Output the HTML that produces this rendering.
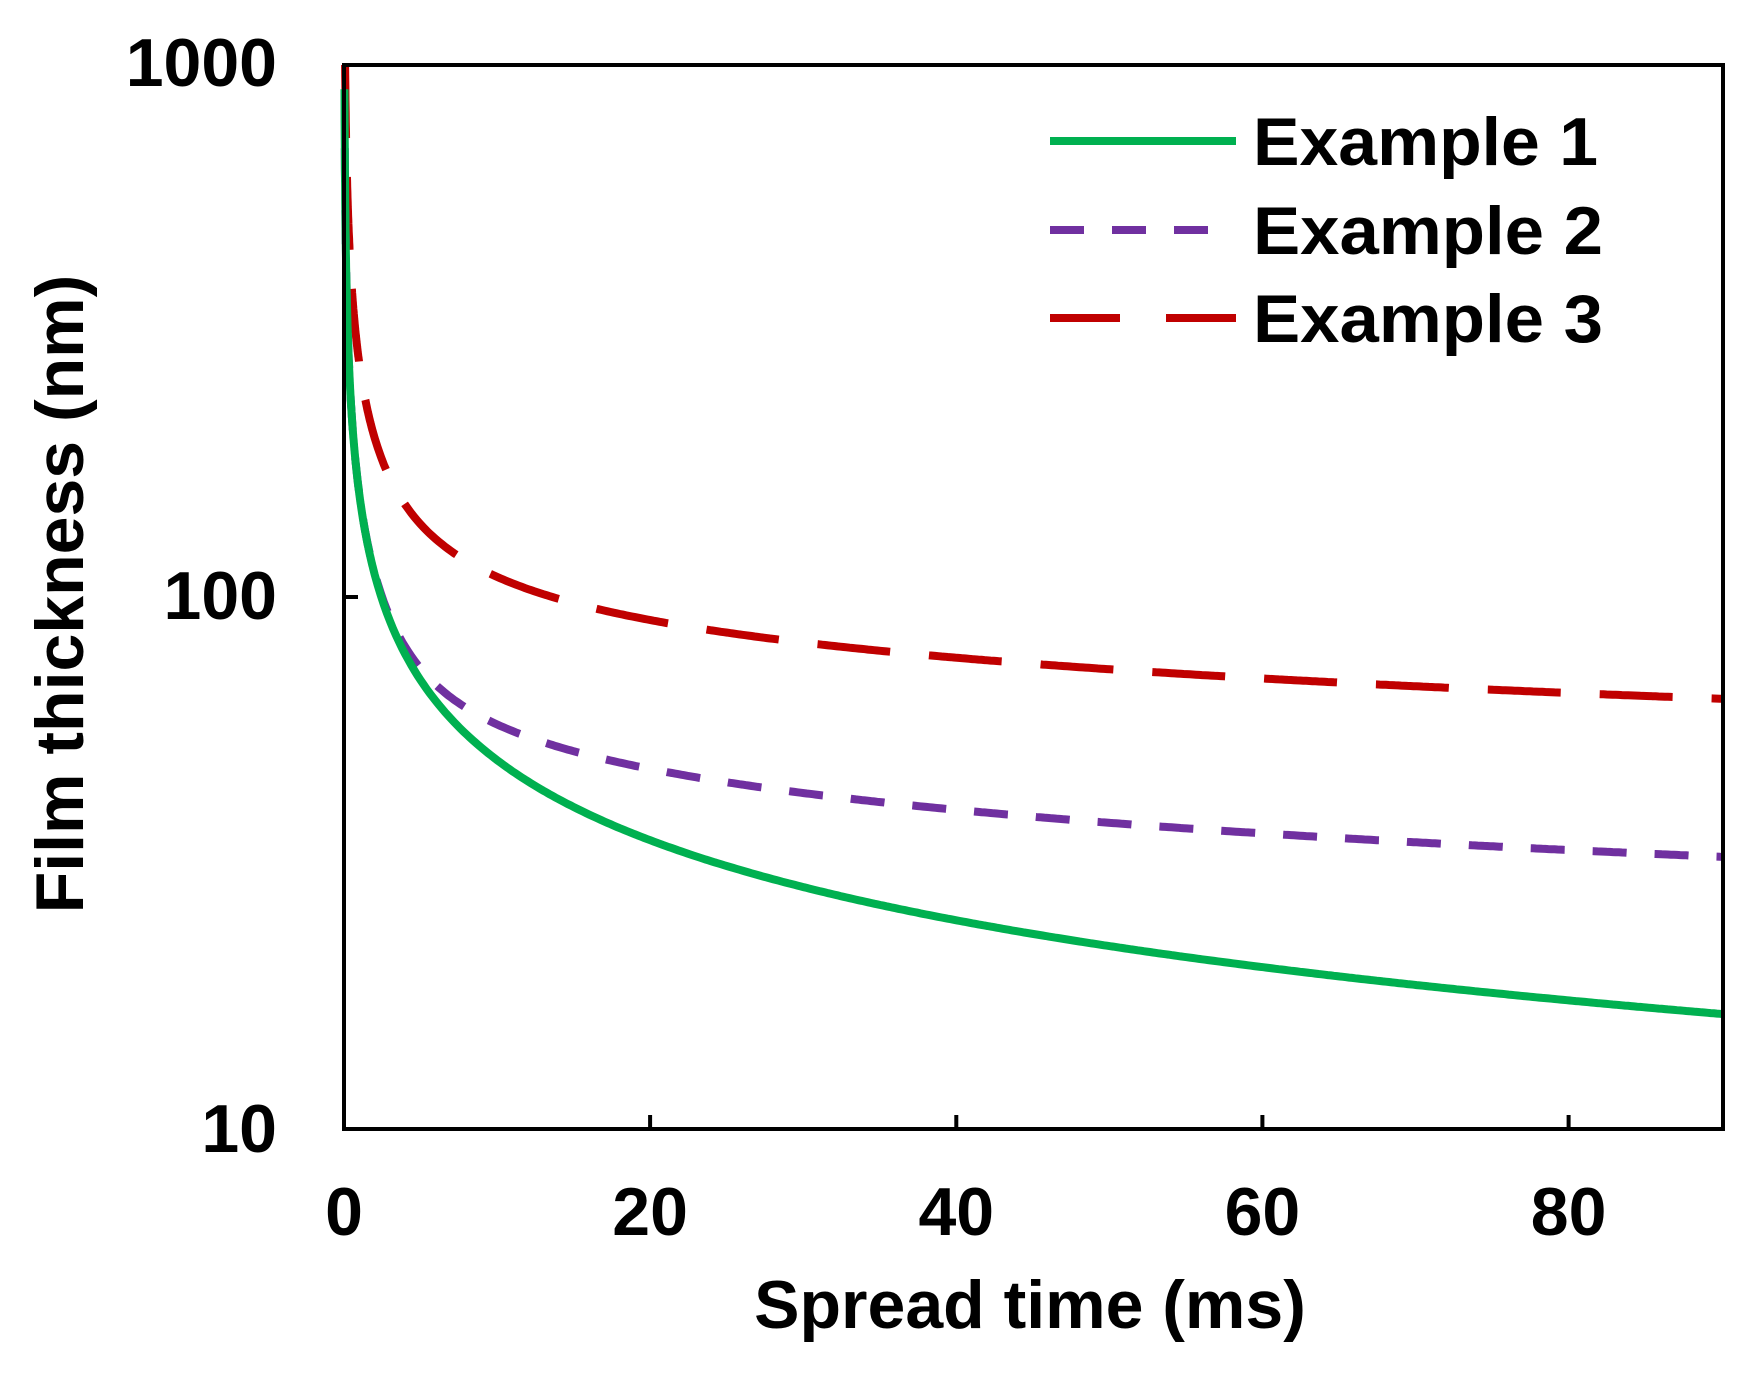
<!DOCTYPE html>
<html><head><meta charset="utf-8"><style>
html,body{margin:0;padding:0;background:#fff;}
svg text{font-family:"Liberation Sans",Arial,sans-serif;font-weight:bold;fill:#000;}
</style></head><body>
<svg id="s" width="1756" height="1378" viewBox="0 0 1756 1378" xmlns="http://www.w3.org/2000/svg">
<rect width="1756" height="1378" fill="#fff"/>
<g id="curves"></g>
<rect x="344" y="65" width="1379" height="1064" fill="none" stroke="#000" stroke-width="4"/>
<g stroke="#000" stroke-width="4">
<line x1="344" y1="597" x2="358" y2="597"/>
<line x1="650.1" y1="1129" x2="650.1" y2="1115"/>
<line x1="956.3" y1="1129" x2="956.3" y2="1115"/>
<line x1="1262.4" y1="1129" x2="1262.4" y2="1115"/>
<line x1="1568.6" y1="1129" x2="1568.6" y2="1115"/>
</g>
<g font-size="68" text-anchor="end">
<text x="277" y="86">1000</text>
<text x="277" y="619">100</text>
<text x="277" y="1152">10</text>
</g>
<g font-size="68" text-anchor="middle">
<text x="344" y="1235">0</text>
<text x="650.1" y="1235">20</text>
<text x="956.3" y="1235">40</text>
<text x="1262.4" y="1235">60</text>
<text x="1568.6" y="1235">80</text>
</g>
<text x="1030" y="1328" font-size="68" text-anchor="middle">Spread time (ms)</text>
<text transform="translate(83,594) rotate(-90)" font-size="68" text-anchor="middle">Film thickness (nm)</text>
<g stroke-width="8" fill="none">
<line x1="1050" y1="141" x2="1236" y2="141" stroke="#00b050"/>
<line x1="1050" y1="230" x2="1236" y2="230" stroke="#7030a0" stroke-dasharray="34 28"/>
<line x1="1050" y1="318" x2="1236" y2="318" stroke="#c00000" stroke-dasharray="70 46"/>
</g>
<g font-size="68" textLength="345">
<text x="1253" y="165" textLength="345" lengthAdjust="spacingAndGlyphs">Example 1</text>
<text x="1253" y="254" textLength="350" lengthAdjust="spacingAndGlyphs">Example 2</text>
<text x="1253" y="342" textLength="350" lengthAdjust="spacingAndGlyphs">Example 3</text>
</g>
</svg>
<script>
(function(){
var X=function(t){return 344+t*(1379/90);};
var Y=function(h){return 1129-(Math.log10(h)-1)*532;};
function pn(a,b,p){return Math.pow(Math.pow(a,p)+Math.pow(b,p),1/p);}
function g(t){return 156/Math.sqrt(t);}
function p(t){return pn(g(t),100*Math.pow(t,-0.25),10);}
function r(t){return pn(165*Math.pow(t,-0.21),270*Math.pow(t,-0.5),5);}
function path(f,t0){var d="";var t=t0;var first=true;
 while(t<=90){var h=Math.min(f(t),1000);d+=(first?"M":"L")+X(t).toFixed(1)+" "+Y(h).toFixed(1)+" ";first=false;t+= t<2?0.01:0.2;}
 d+="L"+X(90).toFixed(1)+" "+Y(f(90)).toFixed(1);return d;}
var ns="http://www.w3.org/2000/svg",G=document.getElementById("curves");
function add(d,c,da){var e=document.createElementNS(ns,"path");e.setAttribute("d",d);e.setAttribute("stroke",c);e.setAttribute("stroke-width","8");e.setAttribute("fill","none");if(da)e.setAttribute("stroke-dasharray",da);G.appendChild(e);}
add(path(r,0.07),"#c00000","73 39");
add(path(p,0.05),"#7030a0","34 28");
add(path(g,0.03),"#00b050",null);
})();
</script>
</body></html>
